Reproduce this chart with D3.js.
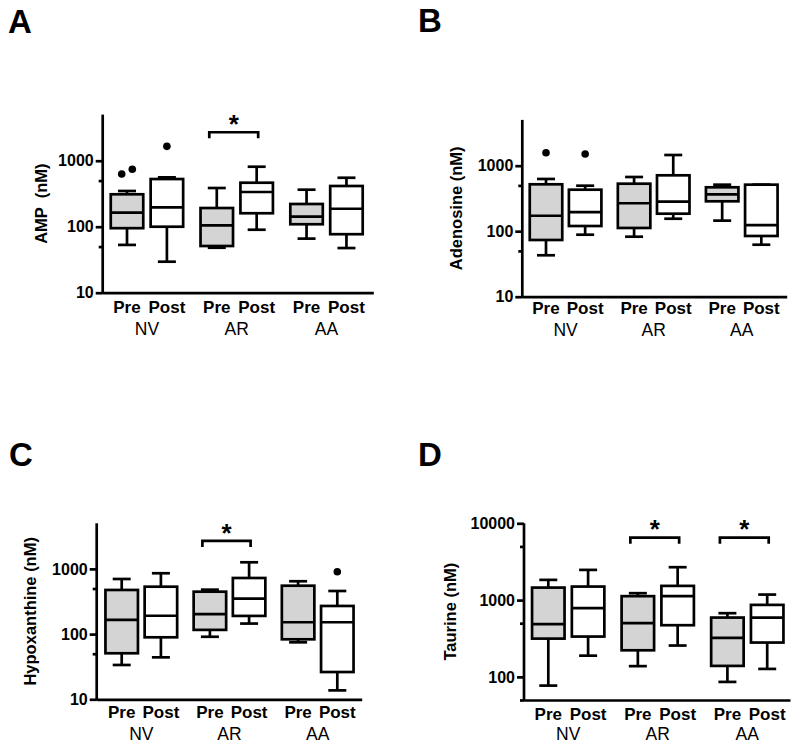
<!DOCTYPE html>
<html>
<head>
<meta charset="utf-8">
<script src="https://cdn.jsdelivr.net/npm/d3@7"></script>
<style>
  html, body { margin: 0; padding: 0; background: #fff; }
  svg text { font-family: "Liberation Sans", Arial, sans-serif; fill: #000; }
</style>
</head>
<body>
<svg id="chart" width="800" height="749"></svg>
<script>
// ---------------- data ----------------
const groups = ["NV", "AR", "AA"];
const phases = ["Pre", "Post"];
// each box: [whisker low, Q1, median, Q3, whisker high], order NV Pre, NV Post, AR Pre, AR Post, AA Pre, AA Post
const ampStats = [
  [53, 95, 163, 310, 348],
  [29.5, 100, 197, 528, 560],
  [48, 51, 105, 192, 386],
  [90, 160, 336, 464, 811],
  [66, 109, 142, 221, 364],
  [47.5, 77, 187, 414, 552]
];
const ampOutliers = [[629, 741], [1652], [], [], [], []];
const adenosineStats = [
  [42.9, 73.4, 172, 520, 627],
  [88.4, 120, 196, 430, 495],
  [82.4, 112, 267, 531, 672],
  [155, 185, 282, 713, 1456],
  [145, 286, 366, 468, 513],
  [62.2, 84.5, 124, 513, 513]
];
const adenosineOutliers = [[1578], [1510], [], [], [], []];
const hypoxanthineStats = [
  [33.6, 50.8, 165, 475, 700],
  [44, 89.3, 191, 533, 857],
  [91, 116, 203, 447, 480],
  [145, 190, 349, 725, 1262],
  [74.8, 83.2, 152, 552, 646],
  [13.7, 26.2, 152, 270, 458]
];
const hypoxanthineOutliers = [[], [], [], [], [], [905]];
const taurineStats = [
  [77, 315, 485, 1455, 1833],
  [189, 335, 785, 1500, 2473],
  [138, 222, 500, 1125, 1230],
  [256, 471, 1125, 1531, 2681],
  [86, 139, 322, 592, 675],
  [127, 280, 592, 866, 1180]
];
const taurineOutliers = [[], [], [], [], [], []];
// significant Pre vs Post comparisons (group names) and bracket level (nM)
const ampSig = ["AR"], ampSigLevel = 2700;
const adenosineSig = [], adenosineSigLevel = 2700;
const hypoxanthineSig = ["AR"], hypoxanthineSigLevel = 2680;
const taurineSig = ["AR", "AA"], taurineSigLevel = 6500;
// axis ticks
const majorTicksLow = [10, 100, 1000];
const minorTicksLow = [50, 500];
const majorTicksHigh = [100, 1000, 10000];
const minorTicksHigh = [50, 500, 5000];

// ---------------- layout ----------------
const panels = [
  { letter: "A", lx: 8, ly: 33, title: "AMP  (nM)", tx: 41, stats: ampStats, out: ampOutliers, sig: ampSig, sigLevel: ampSigLevel,
    domain: [10, 5000], yBottom: 292.7, yTop: 114.6, axisX: 102.7, xEnd: 373.3, c0: 127, unit: 39.9,
    major: majorTicksLow, minor: minorTicksLow, phaseY: 312.7, groupY: 335 },
  { letter: "B", lx: 418, ly: 32, title: "Adenosine (nM)", tx: 456, stats: adenosineStats, out: adenosineOutliers, sig: adenosineSig, sigLevel: adenosineSigLevel,
    domain: [10, 5000], yBottom: 296.7, yTop: 119.9, axisX: 522.3, xEnd: 786.7, c0: 546, unit: 39.15,
    major: majorTicksLow, minor: minorTicksLow, phaseY: 313.5, groupY: 336 },
  { letter: "C", lx: 9, ly: 466, title: "Hypoxanthine (nM)", tx: 30, stats: hypoxanthineStats, out: hypoxanthineOutliers, sig: hypoxanthineSig, sigLevel: hypoxanthineSigLevel,
    domain: [10, 5000], yBottom: 699.3, yTop: 523.3, axisX: 96.7, xEnd: 361.7, c0: 121.7, unit: 39.2,
    major: majorTicksLow, minor: minorTicksLow, phaseY: 717.7, groupY: 740 },
  { letter: "D", lx: 418, ly: 466, title: "Taurine (nM)", tx: 450, stats: taurineStats, out: taurineOutliers, sig: taurineSig, sigLevel: taurineSigLevel,
    domain: [50, 10000], yBottom: 700, yTop: 523.3, axisX: 524, xEnd: 790, c0: 548.3, unit: 39.8,
    major: majorTicksHigh, minor: minorTicksHigh, phaseY: 719.5, groupY: 739.5 }
];

const boxW = 32.5, capW = 18, lw = 2.7, preFill = "#d4d4d4";
const svg = d3.select("#chart");

panels.forEach(p => {
  const g = svg.append("g");
  const y = d3.scaleLog().domain(p.domain).range([p.yBottom, p.yTop]);
  const x = d3.scaleLinear().domain([0, 5.5]).range([p.c0, p.c0 + 5.5 * p.unit]);
  const pos = i => x(Math.floor(i / 2) * 2.25 + (i % 2));

  // panel letter
  g.append("text").attr("x", p.lx).attr("y", p.ly)
    .style("font-size", "33px").style("font-weight", "bold").text(p.letter);

  // y axis (major)
  const yAxis = d3.axisLeft(y).tickValues(p.major).tickFormat(d3.format("d"))
    .tickSize(7).tickSizeOuter(0).tickPadding(2);
  const ya = g.append("g").attr("transform", `translate(${p.axisX},0)`).call(yAxis);
  ya.select(".domain").attr("stroke", "#000").attr("stroke-width", lw).attr("d", `M0,${p.yTop}V${p.yBottom + lw / 2}`);
  ya.selectAll(".tick line").attr("stroke", "#000").attr("stroke-width", lw);
  ya.selectAll(".tick text").style("font-size", "16px").style("font-weight", "bold").attr("fill", "#000");
  // minor ticks
  const yMinor = d3.axisLeft(y).tickValues(p.minor).tickFormat("").tickSize(4).tickSizeOuter(0);
  const ym = g.append("g").attr("transform", `translate(${p.axisX},0)`).call(yMinor);
  ym.select(".domain").remove();
  ym.selectAll(".tick line").attr("stroke", "#000").attr("stroke-width", lw);

  // x axis
  const xa = d3.scaleLinear().domain([0, 1]).range([p.axisX, p.xEnd]);
  const xAxis = d3.axisBottom(xa).tickValues([]).tickSizeOuter(0);
  const xg = g.append("g").attr("transform", `translate(0,${p.yBottom})`).call(xAxis);
  xg.select(".domain").attr("stroke", "#000").attr("stroke-width", lw);

  // y title
  g.append("text")
    .attr("transform", `translate(${p.tx},${(p.yTop + p.yBottom) / 2}) rotate(-90)`)
    .attr("text-anchor", "middle").attr("dominant-baseline", "central")
    .style("font-size", "16.5px").style("font-weight", "bold").style("white-space", "pre")
    .text(p.title);

  // boxes
  p.stats.forEach((s, i) => {
    const cx = pos(i);
    const [lo, q1, med, q3, hi] = s;
    const bg = g.append("g").attr("stroke", "#000").attr("stroke-width", lw).attr("fill", "none");
    bg.append("line").attr("x1", cx).attr("x2", cx).attr("y1", y(q3)).attr("y2", y(hi));
    bg.append("line").attr("x1", cx).attr("x2", cx).attr("y1", y(q1)).attr("y2", y(lo));
    bg.append("line").attr("x1", cx - capW / 2).attr("x2", cx + capW / 2).attr("y1", y(hi)).attr("y2", y(hi));
    bg.append("line").attr("x1", cx - capW / 2).attr("x2", cx + capW / 2).attr("y1", y(lo)).attr("y2", y(lo));
    bg.append("rect").attr("x", cx - boxW / 2).attr("width", boxW)
      .attr("y", y(q3)).attr("height", Math.max(0.5, y(q1) - y(q3)))
      .attr("fill", i % 2 === 0 ? preFill : "#fff");
    bg.append("line").attr("x1", cx - boxW / 2).attr("x2", cx + boxW / 2).attr("y1", y(med)).attr("y2", y(med));
    const o = p.out[i];
    o.forEach((v, k) => {
      g.append("circle").attr("cx", cx + (k - (o.length - 1) / 2) * 10.6).attr("cy", y(v))
        .attr("r", 3.8).attr("fill", "#000");
    });
  });

  // phase labels & group labels
  p.stats.forEach((s, i) => {
    g.append("text").attr("x", pos(i)).attr("y", p.phaseY).attr("text-anchor", "middle")
      .style("font-size", "17px").style("font-weight", "bold").text(phases[i % 2]);
  });
  groups.forEach((gr, j) => {
    g.append("text").attr("x", (pos(2 * j) + pos(2 * j + 1)) / 2).attr("y", p.groupY).attr("text-anchor", "middle")
      .style("font-size", "17.5px").text(gr);
  });

  // significance brackets
  p.sig.forEach(gr => {
    const j = groups.indexOf(gr);
    const x1 = pos(2 * j) - 7.5, x2 = pos(2 * j + 1) + 1.5, by = y(p.sigLevel);
    g.append("path").attr("d", `M${x1},${by + 6}V${by}H${x2}V${by + 6}`)
      .attr("fill", "none").attr("stroke", "#000").attr("stroke-width", lw);
    g.append("text").attr("x", (x1 + x2) / 2).attr("y", by - 14 + 0.57 * 26).attr("text-anchor", "middle")
      .style("font-size", "26px").style("font-weight", "bold").text("*");
  });
});
</script>
</body>
</html>
